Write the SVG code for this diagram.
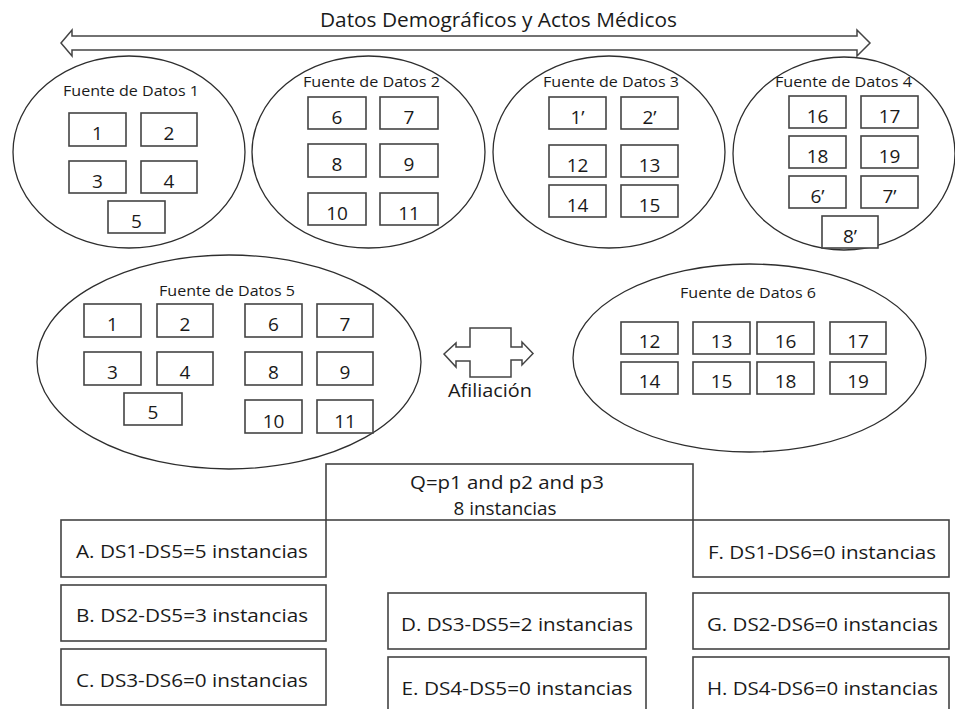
<svg xmlns="http://www.w3.org/2000/svg" width="955" height="709" viewBox="0 0 955 709">
<style>
text{font-family:"Open Sans","Liberation Sans",sans-serif;fill:#1a1a1a;text-anchor:middle}
.ell{fill:none;stroke:#2e2e2e;stroke-width:1.3}
.box{fill:#fff;stroke:#444;stroke-width:1.6}
.num{font-size:19px}
.src{font-size:14px}
.res{font-size:19px}
.blk{fill:#fff;stroke:#444;stroke-width:1.5}
</style>
<rect width="955" height="709" fill="#fff"/>
<g id="connectors">
<polygon class="blk" points="61,43 72,30 72,36 857,36 857,30 870,43 857,56 857,50 72,50 72,56"/>
<text x="498.5" y="27" style="font-size:20px" textLength="357" lengthAdjust="spacingAndGlyphs">Datos Demográficos y Actos Médicos</text>
</g>
<g id="ds1">
<ellipse class="ell" cx="129" cy="152" rx="116" ry="96"/>
<text class="src" x="131" y="96" textLength="136" lengthAdjust="spacingAndGlyphs">Fuente de Datos 1</text>
<rect class="box" x="69" y="113" width="57" height="33"/><text class="num" x="97.5" y="140">1</text>
<rect class="box" x="141" y="113" width="56" height="33"/><text class="num" x="169" y="140">2</text>
<rect class="box" x="69" y="161" width="57" height="32"/><text class="num" x="97.5" y="188">3</text>
<rect class="box" x="141" y="161" width="56" height="32"/><text class="num" x="169" y="188">4</text>
<rect class="box" x="108" y="201" width="57" height="32"/><text class="num" x="136.5" y="228">5</text>
</g>
<g id="ds2">
<ellipse class="ell" cx="368.5" cy="152" rx="116.5" ry="96"/>
<text class="src" x="371.5" y="87" textLength="137" lengthAdjust="spacingAndGlyphs">Fuente de Datos 2</text>
<rect class="box" x="308" y="97" width="58" height="32"/><text class="num" x="337" y="124">6</text>
<rect class="box" x="380" y="97" width="58" height="32"/><text class="num" x="409" y="124">7</text>
<rect class="box" x="308" y="144" width="58" height="33"/><text class="num" x="337" y="171">8</text>
<rect class="box" x="380" y="144" width="58" height="33"/><text class="num" x="409" y="171">9</text>
<rect class="box" x="308" y="193" width="58" height="32"/><text class="num" x="337" y="220">10</text>
<rect class="box" x="380" y="193" width="58" height="32"/><text class="num" x="409" y="220">11</text>
</g>
<g id="ds3">
<ellipse class="ell" cx="609" cy="152" rx="116" ry="96"/>
<text class="src" x="611" y="87" textLength="136" lengthAdjust="spacingAndGlyphs">Fuente de Datos 3</text>
<rect class="box" x="549" y="97" width="57" height="32"/><text class="num" x="577.5" y="124">1’</text>
<rect class="box" x="621" y="97" width="57" height="32"/><text class="num" x="649.5" y="124">2’</text>
<rect class="box" x="549" y="145" width="57" height="32"/><text class="num" x="577.5" y="172">12</text>
<rect class="box" x="621" y="145" width="57" height="32"/><text class="num" x="649.5" y="172">13</text>
<rect class="box" x="549" y="185" width="57" height="32"/><text class="num" x="577.5" y="212">14</text>
<rect class="box" x="621" y="185" width="57" height="32"/><text class="num" x="649.5" y="212">15</text>
</g>
<g id="ds4">
<ellipse class="ell" cx="844" cy="153.5" rx="111" ry="96.5"/>
<text class="src" x="843.5" y="87" textLength="137" lengthAdjust="spacingAndGlyphs">Fuente de Datos 4</text>
<rect class="box" x="789" y="96" width="57" height="32"/><text class="num" x="817.5" y="123">16</text>
<rect class="box" x="861" y="96" width="57" height="32"/><text class="num" x="889.5" y="123">17</text>
<rect class="box" x="789" y="136" width="57" height="32"/><text class="num" x="817.5" y="163">18</text>
<rect class="box" x="861" y="136" width="57" height="32"/><text class="num" x="889.5" y="163">19</text>
<rect class="box" x="789" y="176" width="57" height="32"/><text class="num" x="817.5" y="203">6’</text>
<rect class="box" x="861" y="176" width="57" height="32"/><text class="num" x="889.5" y="203">7’</text>
<rect class="box" x="822" y="216" width="56" height="32"/><text class="num" x="850" y="243">8’</text>
</g>
<g id="ds5">
<ellipse class="ell" cx="229" cy="362" rx="192" ry="107"/>
<text class="src" x="227" y="296" textLength="136" lengthAdjust="spacingAndGlyphs">Fuente de Datos 5</text>
<rect class="box" x="84" y="304" width="57" height="33"/><text class="num" x="112.5" y="331">1</text>
<rect class="box" x="157" y="304" width="56" height="33"/><text class="num" x="185" y="331">2</text>
<rect class="box" x="245" y="304" width="57" height="33"/><text class="num" x="273.5" y="331">6</text>
<rect class="box" x="317" y="304" width="56" height="33"/><text class="num" x="345" y="331">7</text>
<rect class="box" x="84" y="352" width="57" height="33"/><text class="num" x="112.5" y="379">3</text>
<rect class="box" x="157" y="352" width="56" height="33"/><text class="num" x="185" y="379">4</text>
<rect class="box" x="245" y="352" width="57" height="33"/><text class="num" x="273.5" y="379">8</text>
<rect class="box" x="317" y="352" width="56" height="33"/><text class="num" x="345" y="379">9</text>
<rect class="box" x="124" y="393" width="58" height="32"/><text class="num" x="153" y="419">5</text>
<rect class="box" x="245" y="400" width="57" height="33"/><text class="num" x="273.5" y="428">10</text>
<rect class="box" x="317" y="400" width="56" height="33"/><text class="num" x="345" y="428">11</text>
</g>
<g id="afiliacion">
<polygon class="blk" points="470,328 511,328 511,347 522,347 522,342 533,353.5 522,365 522,360 511,360 511,377 470,377 470,361 456,361 456,367 444,354 456,343 456,347 470,347"/>
<text x="490" y="397" style="font-size:18px" textLength="84" lengthAdjust="spacingAndGlyphs">Afiliación</text>
</g>
<g id="ds6">
<ellipse class="ell" cx="749.5" cy="358" rx="176.5" ry="94"/>
<text class="src" x="748" y="298" textLength="136" lengthAdjust="spacingAndGlyphs">Fuente de Datos 6</text>
<rect class="box" x="621" y="322" width="57" height="32"/><text class="num" x="649.5" y="348">12</text>
<rect class="box" x="693" y="322" width="57" height="32"/><text class="num" x="721.5" y="348">13</text>
<rect class="box" x="757" y="322" width="57" height="32"/><text class="num" x="785.5" y="348">16</text>
<rect class="box" x="830" y="322" width="56" height="32"/><text class="num" x="858" y="348">17</text>
<rect class="box" x="621" y="362" width="57" height="32"/><text class="num" x="649.5" y="388">14</text>
<rect class="box" x="693" y="362" width="57" height="32"/><text class="num" x="721.5" y="388">15</text>
<rect class="box" x="757" y="362" width="57" height="32"/><text class="num" x="785.5" y="388">18</text>
<rect class="box" x="830" y="362" width="56" height="32"/><text class="num" x="858" y="388">19</text>
</g>
<g id="q">
<rect class="box" x="326" y="464" width="367" height="56" style="fill:none"/>
<text class="res" x="507" y="489" textLength="194" lengthAdjust="spacingAndGlyphs">Q=p1 and p2 and p3</text>
<text class="res" x="505" y="515" textLength="103" lengthAdjust="spacingAndGlyphs">8 instancias</text>
</g>
<g id="a"><rect class="box" x="61" y="520" width="265" height="57" style="fill:none"/><text class="res" x="192" y="558" textLength="232" lengthAdjust="spacingAndGlyphs">A. DS1-DS5=5 instancias</text></g>
<g id="b"><rect class="box" x="61" y="585" width="265" height="56"/><text class="res" x="192" y="622" textLength="232" lengthAdjust="spacingAndGlyphs">B. DS2-DS5=3 instancias</text></g>
<g id="c"><rect class="box" x="61" y="649" width="265" height="56"/><text class="res" x="192" y="687" textLength="232" lengthAdjust="spacingAndGlyphs">C. DS3-DS6=0 instancias</text></g>
<g id="d"><rect class="box" x="388" y="593" width="258" height="56"/><text class="res" x="517" y="631" textLength="232" lengthAdjust="spacingAndGlyphs">D. DS3-DS5=2 instancias</text></g>
<g id="e"><rect class="box" x="388" y="657" width="258" height="58"/><text class="res" x="517" y="695" textLength="231" lengthAdjust="spacingAndGlyphs">E. DS4-DS5=0 instancias</text></g>
<g id="f"><rect class="box" x="693" y="520" width="256" height="57" style="fill:none"/><text class="res" x="822" y="559" textLength="228" lengthAdjust="spacingAndGlyphs">F. DS1-DS6=0 instancias</text></g>
<g id="g"><rect class="box" x="693" y="593" width="256" height="56"/><text class="res" x="822.5" y="631" textLength="231" lengthAdjust="spacingAndGlyphs">G. DS2-DS6=0 instancias</text></g>
<g id="h"><rect class="box" x="693" y="657" width="256" height="58"/><text class="res" x="822.5" y="695" textLength="231" lengthAdjust="spacingAndGlyphs">H. DS4-DS6=0 instancias</text></g>
</svg>
